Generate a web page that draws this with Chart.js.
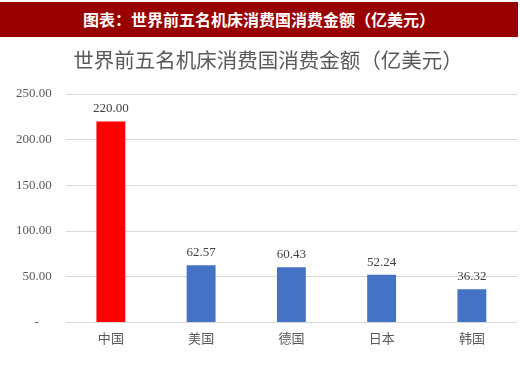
<!DOCTYPE html>
<html>
<head>
<meta charset="utf-8">
<script src="https://cdn.jsdelivr.net/npm/chart.js@4"></script>
<style>
  html, body { margin: 0; padding: 0; background: #fff; }
  body { width: 520px; height: 376px; position: relative; overflow: hidden; }
  .header {
    position: absolute; left: 0; top: 2px; width: 518px; height: 35px;
    background: #990000; color: #fff;
    font: bold 16px "Noto Sans CJK SC", sans-serif;
    line-height: 35px; text-align: center; z-index: 2;
  }
  .title {
    position: absolute; left: 8px; top: 47px; width: 520px; height: 24px;
    color: #595959; font: 20.5px "Noto Sans CJK SC", sans-serif;
    line-height: 24px; text-align: center; z-index: 2;
  }
  .wrap { position: absolute; left: 0; top: 0; width: 520px; height: 376px; }
</style>
</head>
<body>
<div class="header">图表：世界前五名机床消费国消费金额（亿美元）</div>
<div class="title">世界前五名机床消费国消费金额（亿美元）</div>
<div class="wrap"><canvas id="chart"></canvas></div>
<script>
// chart data
const categories = ['中国', '美国', '德国', '日本', '韩国'];
const amounts = [220.00, 62.57, 60.43, 52.24, 36.32];
const barColors = ['#FF0000', '#4472C4', '#4472C4', '#4472C4', '#4472C4'];
const yTicks = [0, 50, 100, 150, 200, 250];

// values printed above each bar
const valueLabels = {
    id: 'valueLabels',
    afterDatasetsDraw(chart) {
        const ctx = chart.ctx;
        const meta = chart.getDatasetMeta(0);
        ctx.save();
        ctx.font = '13px "Liberation Serif", serif';
        ctx.fillStyle = '#404040';
        ctx.textAlign = 'center';
        ctx.textBaseline = 'bottom';
        meta.data.forEach((bar, i) => {
            ctx.fillText(amounts[i].toFixed(2), bar.x, bar.y - 6);
        });
        ctx.restore();
    }
};

new Chart(document.getElementById('chart'), {
    type: 'bar',
    data: {
        labels: categories,
        datasets: [{
            data: amounts,
            backgroundColor: barColors,
            barPercentage: 0.32,
            categoryPercentage: 1
        }]
    },
    options: {
        responsive: true,
        maintainAspectRatio: false,
        animation: false,
        layout: { padding: { top: 94, left: 2, right: 3, bottom: 30 } },
        plugins: {
            legend: { display: false },
            tooltip: { enabled: false },
            title: { display: false }
        },
        scales: {
            x: {
                grid: { display: false },
                border: { display: false },
                ticks: {
                    color: '#595959',
                    padding: 0,
                    font: { family: '"Noto Sans CJK SC", sans-serif', size: 13 }
                }
            },
            y: {
                min: 0,
                max: 250,
                afterBuildTicks: axis => { axis.ticks = yTicks.map(v => ({ value: v })); },
                grid: { color: '#d9d9d9', lineWidth: 1, drawTicks: false },
                border: { display: false },
                ticks: {
                    color: '#595959',
                    padding: 14,
                    font: { family: '"Liberation Serif", serif', size: 13 },
                    callback: v => v === 0 ? '-    ' : v.toFixed(2)
                }
            }
        }
    },
    plugins: [valueLabels]
});
</script>
</body>
</html>
